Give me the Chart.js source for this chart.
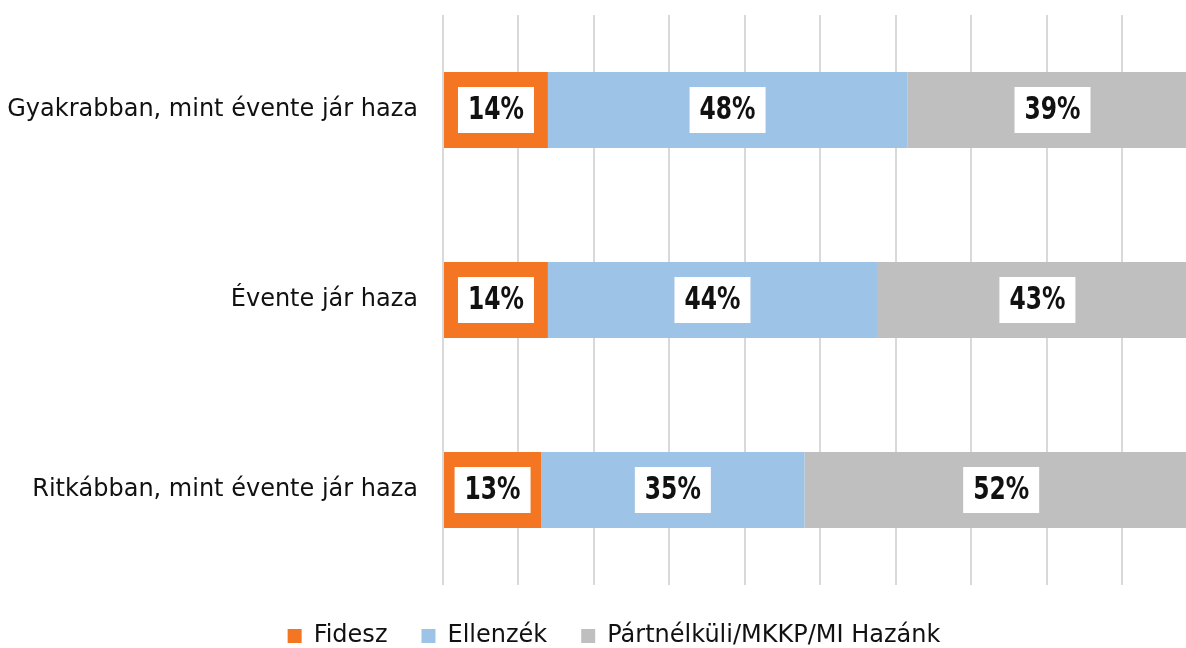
<!DOCTYPE html>
<html>
<head>
<meta charset="utf-8">
<script src="https://cdn.jsdelivr.net/npm/chart.js@4.4.1/dist/chart.umd.min.js"></script>
<style>
  html, body { margin: 0; padding: 0; background: #fff; overflow: hidden; }
  #wrap { width: 1228px; height: 658px; }
  #wrap canvas { display: block; }
</style>
</head>
<body>
<div id="wrap"><canvas id="myChart" width="1228" height="658"></canvas></div>
<script>
// categories and series (share of respondents, %)
const categories = ['Gyakrabban, mint évente jár haza', 'Évente jár haza', 'Ritkábban, mint évente jár haza'];
const fidesz = [13.9, 13.9, 13.0];
const ellenzek = [47.6, 43.6, 34.9];
const partnelkuli = [38.5, 42.5, 52.1];
const seriesNames = ['Fidesz', 'Ellenzék', 'Pártnélküli/MKKP/MI Hazánk'];

const labelFont = "'DejaVu Sans Condensed', 'DejaVu Sans', sans-serif";
const mainFont = "'DejaVu Sans', Verdana, sans-serif";

// white boxes with the rounded percentage in the middle of each segment
const boxLabels = {
    id: 'boxLabels',
    afterDatasetsDraw(chart) {
        const ctx = chart.ctx;
        chart.data.datasets.forEach(function(ds, i) {
            const meta = chart.getDatasetMeta(i);
            meta.data.forEach(function(bar, j) {
                const cx = (bar.x + bar.base) / 2;
                const cy = bar.y;
                ctx.save();
                ctx.fillStyle = '#ffffff';
                ctx.fillRect(cx - 38, cy - 23, 76, 46);
                ctx.fillStyle = '#111111';
                ctx.font = 'bold 26px ' + labelFont;
                ctx.textAlign = 'center';
                ctx.textBaseline = 'middle';
                // taller, narrow glyphs like the original
                ctx.translate(cx, cy + 1);
                ctx.scale(1, 1.25);
                ctx.fillText(Math.round(ds.data[j]) + '%', 0, 0);
                ctx.restore();
            });
        });
    }
};

const ctx = document.getElementById('myChart').getContext('2d');
window.myChart = new Chart(ctx, {
    type: 'bar',
    data: {
        labels: categories,
        datasets: [
            { label: seriesNames[0], data: fidesz, backgroundColor: '#F47522', borderWidth: 0 },
            { label: seriesNames[1], data: ellenzek, backgroundColor: '#9DC3E6', borderWidth: 0 },
            { label: seriesNames[2], data: partnelkuli, backgroundColor: '#BFBFBF', borderWidth: 0 }
        ]
    },
    options: {
        indexAxis: 'y',
        responsive: false,
        animation: false,
        barPercentage: 0.4,
        categoryPercentage: 1,
        layout: { padding: { top: 15, left: 0, right: 0, bottom: 0 } },
        scales: {
            x: {
                stacked: true,
                min: 0,
                max: 104,
                ticks: { display: false, stepSize: 10 },
                grid: { color: '#d9d9d9', lineWidth: 2, drawTicks: false },
                border: { display: false },
                afterFit: function(scale) { scale.height = 5; }
            },
            y: {
                stacked: true,
                grid: { display: false, drawTicks: false },
                border: { display: false },
                ticks: {
                    padding: 25,
                    color: '#111111',
                    font: { family: mainFont, size: 24 }
                },
                afterFit: function(scale) {
                    scale.width = 443;
                    scale.paddingTop = 0;
                    scale.paddingBottom = 0;
                }
            }
        },
        plugins: {
            tooltip: { enabled: false },
            legend: {
                position: 'bottom',
                labels: {
                    boxWidth: 14,
                    boxHeight: 14,
                    padding: 34,
                    color: '#111111',
                    font: { family: mainFont, size: 24 }
                }
            }
        }
    },
    plugins: [boxLabels]
});
</script>
</body>
</html>
